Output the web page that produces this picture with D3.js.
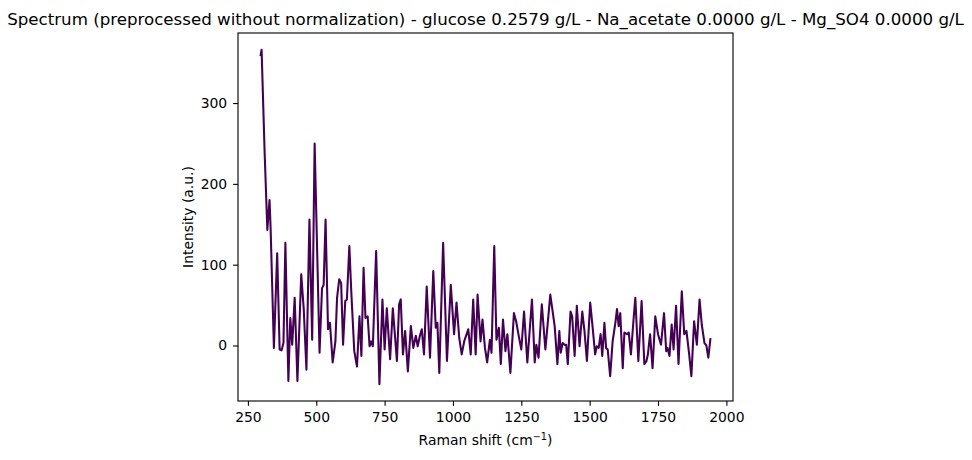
<!DOCTYPE html>
<html>
<head>
<meta charset="utf-8">
<script src="https://cdn.jsdelivr.net/npm/d3@7"></script>
<style>
  html, body { margin: 0; padding: 0; background: #fff; }
  svg { display: block; font-family: "DejaVu Sans", sans-serif; }
</style>
</head>
<body>
<svg id="chart" width="972" height="460"></svg>
<script>
// Raman shift (cm^-1)
const ramanShift = [
  296, 300, 311, 321, 329, 333, 345, 357, 366, 373, 380, 387, 398, 405, 412, 421, 431, 445, 454, 464,
  475, 485, 494, 512, 521, 527, 534, 543, 550, 560, 570, 576, 584, 591, 598, 606, 612, 621, 628, 639,
  649, 658, 665, 673, 680, 688, 695, 701, 707, 719, 731, 742, 750, 758, 770, 780, 795, 803, 809, 817,
  825, 835, 846, 855, 864, 871, 879, 886, 894, 904, 916, 928, 937, 943, 950, 964, 978, 992, 1004, 1013,
  1023, 1032, 1041, 1056, 1065, 1074, 1083, 1090, 1101, 1108, 1117, 1125, 1135, 1141, 1151, 1159, 1168, 1175, 1183, 1192,
  1199, 1210, 1223, 1231, 1241, 1250, 1260, 1272, 1289, 1299, 1305, 1313, 1325, 1338, 1356, 1372, 1382, 1389, 1394, 1401,
  1408, 1414, 1420, 1430, 1436, 1445, 1453, 1463, 1473, 1481, 1490, 1502, 1511, 1520, 1526, 1533, 1540, 1546, 1554, 1560,
  1566, 1575, 1584, 1594, 1600, 1606, 1612, 1621, 1627, 1637, 1643, 1651, 1660, 1667, 1678, 1690, 1700, 1708, 1713, 1721,
  1730, 1740, 1750, 1761, 1772, 1780, 1785, 1792, 1800, 1807, 1816, 1825, 1837, 1846, 1854, 1864, 1872, 1882, 1892, 1902,
  1910, 1920, 1927, 1934, 1942
];
// Intensity (a.u.)
const intensity = [
  358, 366, 240, 143, 180, 145, -3, 114, -5, -6, 3, 127, -44, 34, 1, 59, -44, 88, 46, -30,
  156, 7, 250, -9, 71, 75, 156, 20, 28, -21, 5, 59, 82, 77, 1, 55, 57, 123, 67, -7,
  -26, 36, -13, 96, 34, 36, -1, 5, -1, 117, -48, 57, -5, 46, -17, 46, -19, 51, 57, -11,
  18, -32, 24, -3, 12, -1, 12, 20, -11, 73, -15, 92, 22, 28, -34, 127, -19, 75, 14, 53,
  9, -11, 5, 20, -11, 57, -11, 63, 5, 32, -3, -21, 7, -9, 123, 7, 22, -23, 32, -7,
  14, -34, 40, 30, 11, -5, 42, -21, 57, -21, 1, -15, 51, -5, 63, 24, -23, 18, -9, 3,
  1, 1, -23, 42, 36, -13, 49, -1, 42, 18, -19, 53, 22, -11, -1, -3, 14, -13, 28, -3,
  -5, -38, 5, 28, 45, 24, 40, -28, 16, 14, 16, -11, 30, 59, -19, 55, -23, -19, -11, 14,
  -28, 36, 14, 1, 40, -7, -3, -13, 26, -5, 49, -23, 67, 14, 18, -11, -38, 30, 1, 57,
  26, 3, 0, -15, 9
];
const xTicks = [250, 500, 750, 1000, 1250, 1500, 1750, 2000];
const yTicks = [0, 100, 200, 300];
const titleText = "Spectrum (preprocessed without normalization) - glucose 0.2579 g/L - Na_acetate 0.0000 g/L - Mg_SO4 0.0000 g/L";

const svg = d3.select("#chart");
const mLeft = 238, mRight = 733, mTop = 33, mBottom = 401;

const xe = d3.extent(ramanShift), ye = d3.extent(intensity);
const xm = (xe[1] - xe[0]) * 0.05, ym = (ye[1] - ye[0]) * 0.05;
const x = d3.scaleLinear().domain([xe[0] - xm, xe[1] + xm]).range([mLeft, mRight]);
const y = d3.scaleLinear().domain([ye[0] - ym, ye[1] + ym]).range([mBottom, mTop]);

const data = ramanShift.map((d, i) => [d, intensity[i]]);

svg.append("path")
  .datum(data)
  .attr("fill", "none")
  .attr("stroke", "#440154")
  .attr("stroke-width", 2.08)
  .attr("stroke-linejoin", "round")
  .attr("stroke-linecap", "butt")
  .attr("d", d3.line().x(d => x(d[0])).y(d => y(d[1])));

// frame
svg.append("rect")
  .attr("x", mLeft).attr("y", mTop)
  .attr("width", mRight - mLeft).attr("height", mBottom - mTop)
  .attr("fill", "none").attr("stroke", "#000").attr("stroke-width", 1.11);

const xAxis = svg.append("g").attr("transform", `translate(0,${mBottom})`)
  .call(d3.axisBottom(x).tickValues(xTicks).tickFormat(d3.format("d")).tickSize(4.86).tickPadding(6.5));
const yAxis = svg.append("g").attr("transform", `translate(${mLeft},0)`)
  .call(d3.axisLeft(y).tickValues(yTicks).tickFormat(d3.format("d")).tickSize(4.86).tickPadding(6));
[xAxis, yAxis].forEach(g => {
  g.select(".domain").remove();
  g.selectAll(".tick line").attr("stroke", "#000").attr("stroke-width", 1.11);
  g.selectAll(".tick text").attr("fill", "#000")
    .style("font-family", "'DejaVu Sans', sans-serif").style("font-size", "13.9px");
});

svg.append("text")
  .attr("x", (mLeft + mRight) / 2).attr("y", 25)
  .attr("text-anchor", "middle")
  .style("font-size", "16.67px")
  .attr("fill", "#000")
  .text(titleText);

const xl = svg.append("text")
  .attr("x", (mLeft + mRight) / 2).attr("y", 445)
  .attr("text-anchor", "middle")
  .style("font-size", "13.9px")
  .attr("fill", "#000");
xl.append("tspan").text("Raman shift (cm");
xl.append("tspan").attr("dy", -5).style("font-size", "9.7px").text("\u22121");
xl.append("tspan").attr("dy", 5).text(")");

svg.append("text")
  .attr("transform", `translate(193,${(mTop + mBottom) / 2}) rotate(-90)`)
  .attr("text-anchor", "middle")
  .style("font-size", "13.9px")
  .attr("fill", "#000")
  .text("Intensity (a.u.)");
</script>
</body>
</html>
